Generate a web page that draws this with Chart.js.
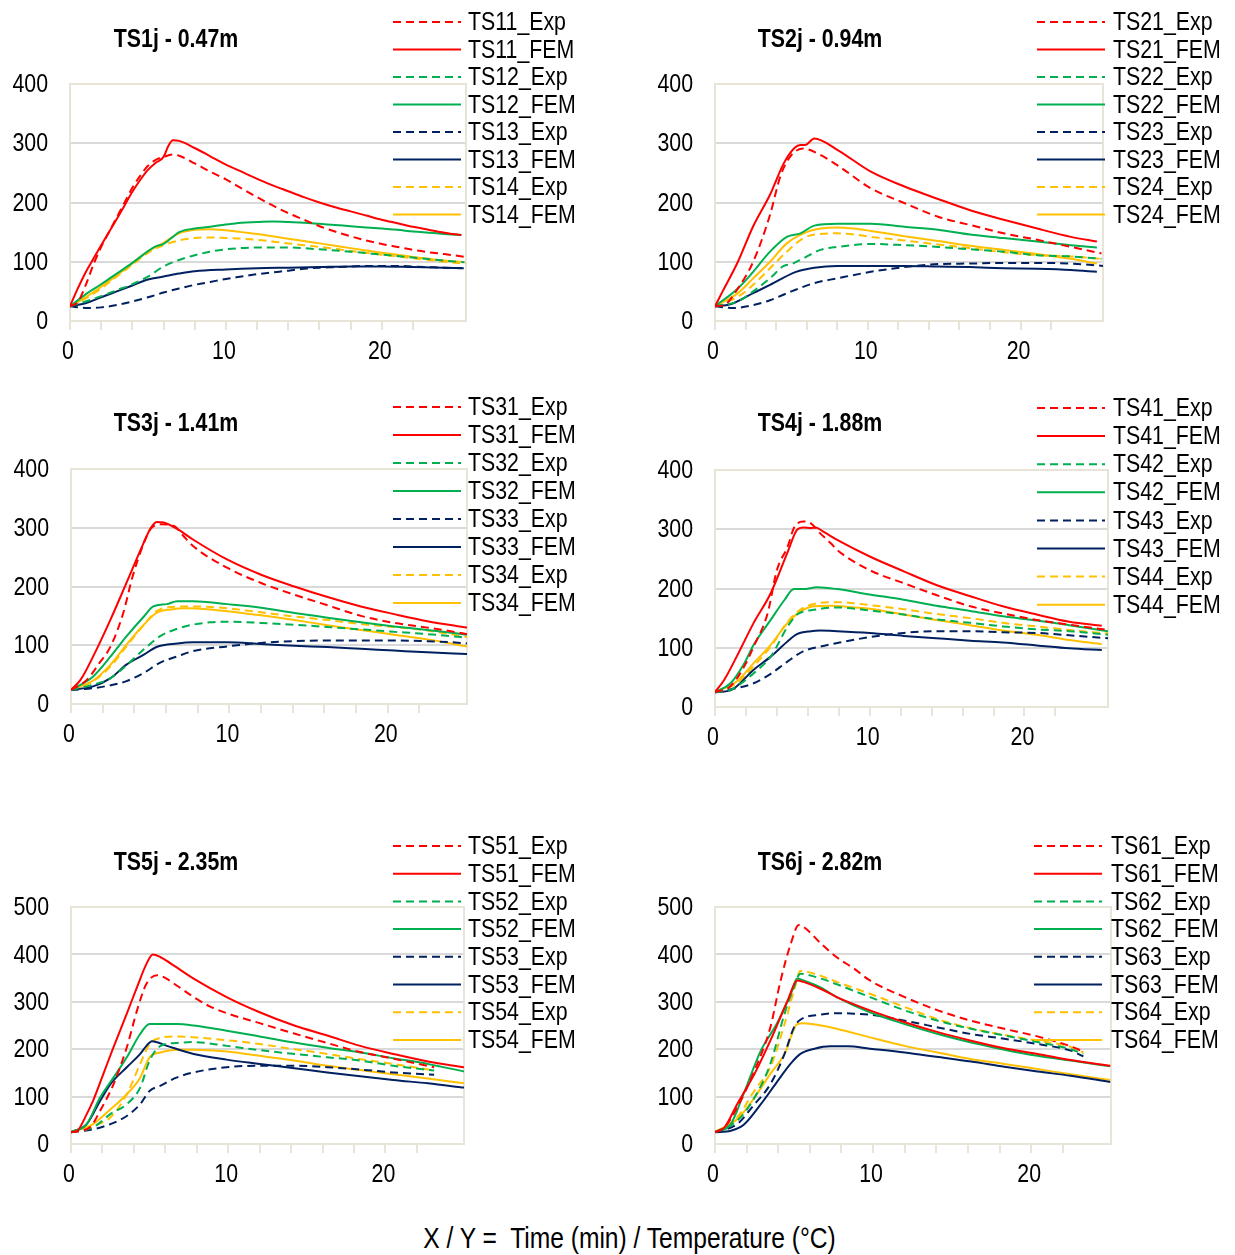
<!DOCTYPE html>
<html lang="en">
<head>
<meta charset="UTF-8">
<title>TS temperature curves</title>
<script src="https://cdn.jsdelivr.net/npm/chart.js"></script>
<style>
  body { margin: 0; background: #fff; width: 1235px; height: 1255px; position: relative; overflow: hidden;
         font-family: 'Liberation Sans', Arial, sans-serif; }
  .panel { position: absolute; }
  #xy { position: absolute; left: 12px; top: 1221px; width: 1235px; text-align: center; font-size: 30px; color: #000; }
  #xy span { display: inline-block; transform: scaleX(0.82); white-space: pre; }
</style>
</head>
<body>
<div class="panel" id="p0"><canvas id="c0"></canvas></div>
<div class="panel" id="p1"><canvas id="c1"></canvas></div>
<div class="panel" id="p2"><canvas id="c2"></canvas></div>
<div class="panel" id="p3"><canvas id="c3"></canvas></div>
<div class="panel" id="p4"><canvas id="c4"></canvas></div>
<div class="panel" id="p5"><canvas id="c5"></canvas></div>
<div id="xy"><span>X / Y =  Time (min) / Temperature (°C)</span></div>
<script>
// ---- data: [time (min), temperature (°C)] ----
const TITLES = ['TS1j - 0.47m', 'TS2j - 0.94m', 'TS3j - 1.41m', 'TS4j - 1.88m', 'TS5j - 2.35m', 'TS6j - 2.82m'];
const Y_MAX = [400, 400, 400, 400, 500, 500];
const X_MAX = [25.4, 25.4, 25.0, 25.4, 25.0, 25.05];
const X_LABELS = [0, 10, 20];

// TS1j
const TS11_Exp = [[0,25],[0.5,32],[1,60],[1.5,95],[2,125],[2.5,150],[3,175],[3.5,200],[4,225],[4.5,245],[5,262],[5.5,272],[6,277],[6.6,281],[7,279],[8,266],[9,252],[10,239],[11,224],[12,209],[13,195],[14,182],[15,171],[16,160],[17,151],[18,143],[19,136],[20,130],[21,125],[22,120],[23,116],[24,113],[25.4,108]];
const TS11_FEM = [[0,25],[0.5,55],[1,82],[1.5,105],[2,128],[2.5,150],[3,172],[3.5,195],[4,218],[4.5,238],[5,255],[5.5,267],[6,277],[6.3,295],[6.6,305],[7,304],[8,292],[9,278],[10,264],[11,252],[12,240],[13,229],[14,219],[15,209],[16,200],[17,192],[18,185],[19,178],[20,171],[21,165],[22,159],[23,154],[24,149],[25.1,145]];
const TS12_Exp = [[0,25],[1,33],[2,42],[3,52],[4,62],[5,75],[6,92],[7,103],[8,111],[9,117],[10,121],[12,124],[14,124],[16,121],[18,117],[20,112],[22,107],[24,102],[25.3,99]];
const TS12_FEM = [[0,25],[1,45],[2,62],[3,80],[4,98],[5,118],[5.5,126],[6,130],[6.5,140],[7,150],[8,156],[9,159],[10,163],[11,166],[12,167],[13,168],[14,167],[15,166],[16,164],[17,162],[18,160],[19,158],[20,156],[21,154],[22,151],[23,149],[24,147],[25.1,145]];
const TS13_Exp = [[0,25],[1,22],[2,23],[3,27],[4,33],[5,40],[6,48],[7,55],[8,61],[9,66],[10,71],[11,75],[12,79],[13,82],[14,85],[15,88],[16,90],[17,91],[18,92],[19,93],[20,93],[21,93],[22,92],[23,91],[24,90],[25.3,89]];
const TS13_FEM = [[0,25],[1,30],[2,40],[3,50],[4,60],[5,70],[6,75],[7,80],[8,84],[10,87],[12,89],[14,90],[16,91],[18,92],[20,92],[22,91],[24,90],[25.1,89]];
const TS14_Exp = [[0,25],[1,38],[2,55],[3,75],[4,95],[5,115],[6,128],[7,136],[8,140],[9,141],[10,140],[11,139],[12,137],[13,134],[14,131],[15,128],[16,125],[17,122],[18,118],[19,115],[20,112],[21,109],[22,106],[23,103],[24,100],[25.4,97]];
const TS14_FEM = [[0,25],[1,40],[2,58],[3,77],[4,97],[5,117],[6,132],[7,148],[8,154],[9,155],[10,153],[11,150],[12,147],[13,143],[14,139],[15,135],[16,131],[17,127],[18,123],[19,119],[20,115],[21,112],[22,108],[23,105],[24,102],[25.1,100]];

// TS2j
const TS21_Exp = [[0,25],[0.6,27],[1.5,55],[2.5,100],[3.6,179],[4.3,246],[5,280],[5.8,291],[6.7,283],[8,263],[10.2,224],[12.4,199],[14.6,176],[16.7,162],[18.9,148],[21.1,137],[23.3,125],[25.3,114]];
const TS21_FEM = [[0,25],[0.5,50],[1.5,100],[2.5,160],[3.6,213],[4.5,266],[5.2,292],[5.6,297],[5.9,297],[6.5,308],[8,289],[10.2,252],[12.4,227],[14.6,206],[16.7,187],[18.9,171],[21.1,156],[23.3,142],[25,134]];
const TS22_Exp = [[0,25],[1.5,33],[2.5,50],[3.6,72],[4.5,93],[5,96],[5.8,106],[6.9,120],[8,125],[10.2,130],[12.4,128],[14.6,125],[16.7,121],[18.9,117],[21.1,111],[23.3,109],[25.3,105]];
const TS22_FEM = [[0,25],[1.5,55],[2.5,83],[3.6,117],[4.7,142],[5.6,148],[6.5,161],[8,164],[10.2,164],[12.4,159],[14.6,154],[16.7,146],[18.9,140],[21.1,134],[23.3,128],[25,124]];
const TS23_Exp = [[0,25],[1.2,22],[2.5,27],[3.6,35],[5,50],[6.5,64],[8,72],[10.2,83],[12.4,91],[14.6,96],[16.7,97],[18.9,98],[21.1,98],[23.3,97],[25.4,93]];
const TS23_FEM = [[0,25],[1,28],[2.5,47],[3.6,61],[5.3,83],[6.5,90],[8,93],[10.2,93],[12.4,93],[14.6,92],[16.7,91],[18.9,89],[21.1,88],[23.3,86],[25,83]];
const TS24_Exp = [[0,25],[1.5,41],[2.5,61],[3.6,89],[4.7,117],[5.8,140],[6.9,147],[8,148],[9.1,146],[10.2,142],[12.4,136],[14.6,129],[16.7,123],[18.9,116],[21.1,111],[23.3,109],[25.3,105]];
const TS24_FEM = [[0,25],[1.5,47],[2.5,72],[3.6,100],[4.7,131],[5.8,148],[6.9,156],[8,158],[9.1,156],[10.2,152],[12.4,143],[14.6,135],[16.7,127],[18.9,120],[21.1,113],[23.3,105],[25,97]];

// TS3j
const TS31_Exp = [[0,24],[1,41],[1.8,70],[2.5,98],[3.3,155],[3.9,218],[4.6,274],[5,297],[5.6,306],[6.5,303],[7.1,286],[7.7,269],[9.85,232],[12,206],[14.1,186],[16.2,168],[18.3,150],[20.4,138],[22.5,130],[24.6,121],[25,119]];
const TS31_FEM = [[0,24],[0.6,41],[1.4,81],[2.5,144],[3.5,206],[4.6,275],[5,298],[5.4,310],[5.85,309],[6.7,298],[7.7,280],[9.85,246],[12,220],[14.1,200],[16.2,182],[18.3,166],[20.4,153],[22.5,141],[25,130]];
const TS32_Exp = [[0,24],[1.4,33],[2.5,44],[3.5,66],[4.6,93],[5.6,115],[6.7,128],[7.7,135],[8.8,139],[9.85,140],[12,138],[14.1,135],[16.2,131],[18.3,127],[20.4,123],[22.5,119],[24.6,114],[25,113]];
const TS32_FEM = [[0,24],[1.4,47],[2.5,81],[3.5,115],[4.6,149],[5.2,166],[6.05,170],[6.7,175],[7.7,175],[9.85,170],[12,164],[14.1,155],[16.2,147],[18.3,139],[20.4,132],[22.5,126],[25,118]];
const TS33_Exp = [[0,24],[1.4,27],[2.5,32],[3.5,39],[4.6,53],[5.6,70],[6.7,81],[7.7,90],[9.85,98],[12,104],[14.1,107],[16.2,108],[18.3,108],[20.4,108],[22.5,107],[24.6,104],[25,103]];
const TS33_FEM = [[0,24],[1.4,30],[2.5,44],[3.5,67],[4.6,84],[5.4,97],[6.7,103],[7.7,105],[9.85,105],[12,102],[14.1,99],[16.2,97],[18.3,94],[20.4,91],[22.5,88],[25,85]];
const TS34_Exp = [[0,24],[1.4,39],[2.5,64],[3.5,98],[4.6,135],[5.4,158],[6.3,165],[7.7,166],[9.85,163],[12,156],[14.1,149],[16.2,143],[18.3,136],[20.4,131],[22.5,125],[24.6,116],[25,114]];
const TS34_FEM = [[0,24],[1.4,40],[2.5,67],[3.5,101],[4.6,135],[5.4,155],[6.3,161],[7.3,163],[8.8,161],[9.85,158],[12,151],[14.1,143],[16.2,134],[18.3,126],[20.4,118],[22.5,110],[25,98]];

// TS4j
const TS41_Exp = [[0,25],[1,35],[1.9,69],[2.5,102],[3.4,158],[4,231],[4.7,271],[5.1,302],[5.7,313],[6.2,310],[6.8,293],[7.5,276],[7.9,265],[10,231],[12.2,209],[14.3,189],[16.5,170],[18.6,158],[20.8,147],[22.9,139],[25.4,130]];
const TS41_FEM = [[0,25],[0.6,46],[1.4,85],[2.5,142],[3.6,192],[4.7,262],[5.3,299],[5.7,303],[6.2,302],[6.5,303],[7,296],[7.9,282],[10,254],[12.2,229],[14.3,206],[16.5,187],[18.6,170],[20.8,156],[22.9,144],[25,137]];
const TS42_Exp = [[0,25],[1,29],[1.7,40],[2.5,57],[3.6,85],[4.7,136],[5.3,156],[6.4,164],[7.9,168],[9,166],[10,163],[12.2,156],[14.3,148],[16.5,142],[18.6,136],[20.8,131],[22.9,128],[25.4,122]];
const TS42_FEM = [[0,25],[1,40],[1.9,74],[2.5,105],[3.6,147],[4.5,181],[5.1,199],[5.7,199],[6.6,202],[7.9,199],[10,190],[12.2,181],[14.3,171],[16.5,162],[18.6,153],[20.8,146],[22.9,138],[25.4,128]];
const TS43_Exp = [[0,25],[1.4,32],[2.5,40],[3.6,56],[4.7,77],[5.7,94],[6.8,102],[7.9,108],[10,118],[12.2,125],[14.3,128],[16.5,128],[18.6,126],[20.8,125],[22.9,121],[25.4,116]];
const TS43_FEM = [[0,25],[1,28],[2.5,63],[3.6,85],[4.7,111],[5.3,123],[6.2,128],[6.8,129],[7.9,128],[10,125],[12.2,120],[14.3,116],[16.5,112],[18.6,109],[20.8,104],[22.9,99],[25,96]];
const TS44_Exp = [[0,25],[1.4,40],[2.5,69],[3.6,102],[4.7,144],[5.5,164],[6.4,174],[7.9,177],[9,175],[10,172],[12.2,165],[14.3,157],[16.5,150],[18.6,142],[20.8,136],[22.9,130],[25.4,124]];
const TS44_FEM = [[0,25],[1.4,43],[2.5,74],[3.6,105],[4.7,142],[5.5,161],[6.4,170],[7.5,171],[9,168],[10,166],[12.2,156],[14.3,147],[16.5,138],[18.6,129],[20.8,122],[22.9,113],[25,106]];

// TS5j
const TS51_Exp = [[0,25],[1.2,35],[1.85,70],[2.7,126],[3.55,204],[4.2,282],[4.8,338],[5.5,356],[5.9,352],[6.7,335],[7.8,310],[8.85,290],[9.9,276],[12,255],[14.2,233],[16.3,213],[18.4,194],[20.5,180],[23.1,162]];
const TS51_FEM = [[0,25],[0.4,28],[1,63],[1.4,91],[2.06,148],[2.7,204],[3.55,275],[4.2,331],[4.8,380],[5.2,400],[5.7,394],[6.7,373],[7.8,349],[9.9,310],[12,278],[14.2,250],[16.3,229],[18.4,207],[20.5,190],[22.7,174],[25,162]];
const TS52_Exp = [[0,25],[1.4,35],[2.5,63],[3.55,84],[4.4,119],[5,176],[5.7,207],[6.7,213],[7.8,215],[9.9,207],[12,198],[14.2,190],[16.3,183],[18.4,176],[20.5,165],[23.1,155]];
const TS52_FEM = [[0,25],[1,42],[1.85,98],[2.7,140],[3.55,183],[4.4,232],[5,253],[5.7,253],[6.7,253],[7.8,250],[9.9,239],[12,227],[14.2,214],[16.3,203],[18.4,193],[20.5,181],[22.7,169],[25,153]];
const TS53_Exp = [[0,25],[1.4,31],[2.5,42],[3.55,59],[4.4,84],[5,112],[5.7,123],[6.7,140],[7.8,151],[9.9,162],[12,165],[14.2,165],[16.3,162],[18.4,157],[20.5,151],[23.1,146]];
const TS53_FEM = [[0,25],[1,42],[1.85,91],[2.5,126],[3.55,162],[4.4,190],[4.8,207],[5.15,217],[6.1,207],[7.8,190],[9.9,178],[12,169],[14.2,160],[16.3,151],[18.4,143],[20.5,135],[22.7,128],[25,119]];
const TS54_Exp = [[0,25],[1.4,38],[2.5,56],[3.55,105],[4.4,169],[5,211],[5.7,224],[6.7,227],[7.8,225],[9.9,219],[12,211],[14.2,200],[16.3,190],[18.4,179],[20.5,169],[23.1,155]];
const TS54_FEM = [[0,25],[1.4,42],[2.5,73],[3.55,105],[4.4,140],[5,183],[5.7,193],[6.7,199],[7.8,199],[9.9,195],[12,186],[14.2,176],[16.3,165],[18.4,156],[20.5,147],[22.7,138],[25,128]];

// TS6j
const TS61_Exp = [[0,25],[0.6,35],[1.4,77],[2.5,155],[3.5,246],[4.15,345],[4.8,423],[5.3,462],[5.6,458],[6.7,423],[7.7,394],[8.8,370],[9.8,345],[12,310],[14.1,282],[16.2,260],[18.3,243],[20.4,227],[22.5,206],[23.3,195]];
const TS61_FEM = [[0,25],[0.6,35],[1.4,84],[2.5,148],[3.5,218],[4.6,303],[5.2,345],[5.6,342],[6.7,327],[7.7,310],[9.8,282],[12,257],[14.1,236],[16.2,218],[18.3,202],[20.4,190],[22.5,177],[25,165]];
const TS62_Exp = [[0,25],[1.4,49],[2.5,98],[3.5,169],[4.4,275],[5,331],[5.4,359],[6.7,349],[7.7,337],[9.8,310],[12,282],[14.1,260],[16.2,243],[18.3,229],[20.4,215],[22.5,200],[23.3,190]];
const TS62_FEM = [[0,25],[1,42],[1.8,105],[2.9,197],[3.9,253],[4.8,317],[5.2,349],[5.6,345],[6.7,330],[7.7,310],[9.8,278],[12,253],[14.1,232],[16.2,214],[18.3,199],[20.4,186],[22.5,176],[25,164]];
const TS63_Exp = [[0,25],[1.4,42],[2.5,84],[3.5,126],[4.4,190],[5,246],[5.4,262],[6.7,273],[7.7,276],[8.8,275],[9.8,273],[12,260],[14.1,246],[16.2,232],[18.3,222],[20.4,211],[22.5,197],[23.3,185]];
const TS63_FEM = [[0,25],[1,28],[1.8,40],[2.9,84],[3.9,130],[4.8,170],[5.4,190],[6.3,201],[7.3,206],[8.4,206],[9.8,201],[12,193],[14,184],[16.2,174],[18.3,163],[20.4,153],[22.5,144],[25,131]];
const TS64_Exp = [[0,25],[1.4,56],[2.5,113],[3.5,162],[4.4,253],[5,324],[5.4,365],[6.3,359],[7.7,342],[9.8,317],[12,289],[14.1,263],[16.2,244],[18.3,230],[20.4,218],[22.5,205],[23.3,193]];
const TS64_FEM = [[0,25],[1.4,52],[2.5,98],[3.5,148],[4.4,190],[5.2,253],[5.6,255],[6.7,250],[7.7,243],[9.8,225],[12,207],[14.1,193],[16.2,179],[18.3,169],[20.4,158],[22.5,147],[25,135]];

const SERIES = [
  [TS11_Exp, TS11_FEM, TS12_Exp, TS12_FEM, TS13_Exp, TS13_FEM, TS14_Exp, TS14_FEM],
  [TS21_Exp, TS21_FEM, TS22_Exp, TS22_FEM, TS23_Exp, TS23_FEM, TS24_Exp, TS24_FEM],
  [TS31_Exp, TS31_FEM, TS32_Exp, TS32_FEM, TS33_Exp, TS33_FEM, TS34_Exp, TS34_FEM],
  [TS41_Exp, TS41_FEM, TS42_Exp, TS42_FEM, TS43_Exp, TS43_FEM, TS44_Exp, TS44_FEM],
  [TS51_Exp, TS51_FEM, TS52_Exp, TS52_FEM, TS53_Exp, TS53_FEM, TS54_Exp, TS54_FEM],
  [TS61_Exp, TS61_FEM, TS62_Exp, TS62_FEM, TS63_Exp, TS63_FEM, TS64_Exp, TS64_FEM]
];

// ---- look ----
const FONT = "'Liberation Sans', Arial, sans-serif";
const NARROW = 0.82;   // no narrow face installed, so squeeze the regular one
const COLORS = ['#ff0000', '#00b050', '#002060', '#ffc000'];
const GRID = '#d9d9d9';
const FRAME = '#e8e4d8';
const DASH = [8, 5];

// page geometry of each panel: canvas box, plot area, title centre, legend
const PANELS = [
  { box: [0, 0, 617, 380],     area: [70, 84, 466, 321],   title: [176, 40],  leg: [393, 461, 468, 22, 27.5] },
  { box: [617, 0, 618, 380],   area: [715, 84, 1103, 321], title: [820, 40],  leg: [1037, 1105, 1113, 22, 27.5] },
  { box: [0, 385, 617, 400],   area: [71, 469, 467, 704],  title: [176, 424], leg: [393, 461, 468, 407, 28] },
  { box: [617, 385, 618, 400], area: [715, 470, 1108, 707], title: [820, 424], leg: [1037, 1105, 1113, 408, 28.1] },
  { box: [0, 820, 617, 385],   area: [71, 907, 464, 1144], title: [176, 863], leg: [393, 461, 468, 846, 27.7] },
  { box: [617, 820, 618, 385], area: [715, 907, 1111, 1144], title: [820, 863], leg: [1034, 1102, 1111, 846, 27.7] }
];

function narrowText(ctx, text, x, y, align) {
  ctx.save();
  ctx.translate(x, y);
  ctx.scale(NARROW, 1);
  ctx.textAlign = align;
  ctx.fillText(text, 0, 0);
  ctx.restore();
}

const decor = {
  id: 'decor',
  beforeDatasetsDraw(chart) {
    const { ctx, chartArea: a } = chart;
    ctx.save();
    ctx.strokeStyle = FRAME;
    ctx.lineWidth = 2;
    ctx.strokeRect(a.left, a.top, a.right - a.left, a.bottom - a.top);
    ctx.restore();
  },
  afterDraw(chart, args, opts) {
    const { ctx, chartArea: a, scales } = chart;
    ctx.save();
    ctx.fillStyle = '#000';
    ctx.textBaseline = 'middle';

    // tick labels, placed by the library's scales
    ctx.font = '26px ' + FONT;
    scales.y.ticks.forEach(tk => {
      narrowText(ctx, String(tk.value), a.left - 22, scales.y.getPixelForValue(tk.value) + 1, 'right');
    });
    scales.x.ticks.forEach(tk => {
      if (X_LABELS.includes(tk.value)) {
        narrowText(ctx, String(tk.value), scales.x.getPixelForValue(tk.value) - 2, a.bottom + 31, 'center');
      }
    });

    // title
    ctx.font = 'bold 26px ' + FONT;
    narrowText(ctx, opts.title, opts.titleX, opts.titleY, 'center');

    // legend
    ctx.font = '26px ' + FONT;
    chart.data.datasets.forEach((ds, i) => {
      const y = opts.legY + i * opts.legDy;
      ctx.save();
      ctx.strokeStyle = ds.borderColor;
      ctx.lineWidth = 2;
      ctx.setLineDash(ds.borderDash || []);
      ctx.beginPath();
      ctx.moveTo(opts.lineX0, y);
      ctx.lineTo(opts.lineX1, y);
      ctx.stroke();
      ctx.restore();
      narrowText(ctx, ds.label, opts.textX, y + 1, 'left');
    });
    ctx.restore();
  }
};

PANELS.forEach((p, n) => {
  const [bx, by, bw, bh] = p.box;
  const div = document.getElementById('p' + n);
  div.style.left = bx + 'px';
  div.style.top = by + 'px';
  const canvas = document.getElementById('c' + n);
  canvas.width = bw;
  canvas.height = bh;
  const l = p.area[0] - bx, t = p.area[1] - by, r = p.area[2] - bx, b = p.area[3] - by;

  const datasets = SERIES[n].map((pts, i) => {
    const sensor = Math.floor(i / 2);
    const exp = i % 2 === 0;
    return {
      label: 'TS' + (n + 1) + (sensor + 1) + (exp ? '_Exp' : '_FEM'),
      data: pts.map(([x, y]) => ({ x, y })),
      borderColor: COLORS[sensor],
      borderWidth: 2,
      borderDash: exp ? DASH : [],
      pointRadius: 0,
      cubicInterpolationMode: 'monotone',
      fill: false
    };
  });

  new Chart(canvas, {
    type: 'line',
    data: { datasets },
    plugins: [decor],
    options: {
      responsive: false,
      animation: false,
      layout: { padding: { top: t, right: bw - r, left: 0, bottom: 0 } },
      plugins: {
        legend: { display: false },
        tooltip: { enabled: false },
        decor: {
          title: TITLES[n], titleX: p.title[0] - bx, titleY: p.title[1] - by,
          lineX0: p.leg[0] - bx, lineX1: p.leg[1] - bx, textX: p.leg[2] - bx,
          legY: p.leg[3] - by, legDy: p.leg[4]
        }
      },
      scales: {
        x: {
          type: 'linear',
          min: 0,
          max: X_MAX[n],
          afterFit: s => { s.height = bh - b; },
          afterBuildTicks: s => { s.ticks = s.ticks.filter(tk => tk.value % 2 === 0); },
          ticks: {
            stepSize: 2,
            autoSkip: false,
            maxRotation: 0,
            padding: 6,
            color: 'rgba(0,0,0,0)',
            font: { family: FONT, size: 26 },
            callback: v => X_LABELS.includes(v) ? String(v) : ''
          },
          grid: { drawOnChartArea: false, drawTicks: true, tickLength: 9, color: FRAME, lineWidth: 2 },
          border: { display: true, color: FRAME, width: 2 }
        },
        y: {
          min: 0,
          max: Y_MAX[n],
          afterFit: s => { s.width = l; },
          ticks: {
            stepSize: 100,
            padding: 22,
            color: 'rgba(0,0,0,0)',
            font: { family: FONT, size: 26 }
          },
          grid: { color: GRID, lineWidth: 2, drawTicks: false },
          border: { display: true, color: FRAME, width: 2 }
        }
      }
    }
  });
});
</script>
</body>
</html>
